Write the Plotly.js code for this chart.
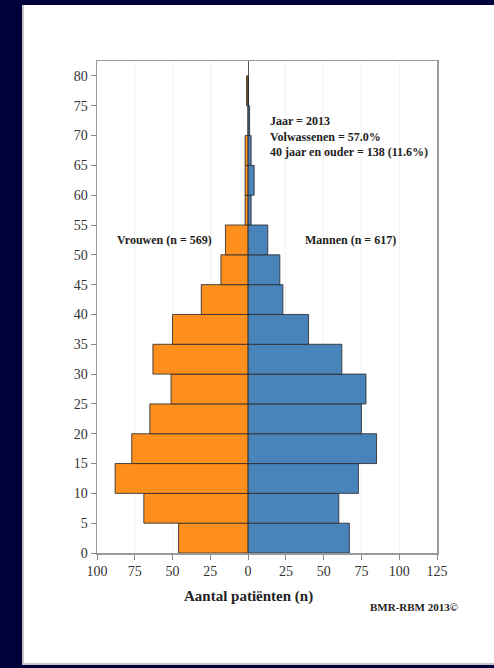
<!DOCTYPE html>
<html>
<head>
<meta charset="utf-8">
<script src="https://cdn.plot.ly/plotly-3.0.1.min.js"></script>
<style>
html,body{margin:0;padding:0;background:#00003a;overflow:hidden;width:494px;height:668px;}
#panel{position:absolute;left:22px;top:5px;width:490px;height:660px;background:#fff;
  border-left:2px solid #c4c4c4;border-bottom:2px solid #c8c8c8;box-sizing:border-box;}
#chart{position:absolute;left:0;top:0;width:494px;height:668px;}
</style>
</head>
<body>
<div id="panel"></div>
<div id="chart"></div>
<script>
// Age bins (start of each 5-year group)
var ageStart = [0, 5, 10, 15, 20, 25, 30, 35, 40, 45, 50, 55, 60, 65, 70, 75];
// Number of patients per age group
var vrouwen = [46, 69, 88, 77, 65, 51, 63, 50, 31, 18, 15, 2, 2, 2, 0, 1];
var mannen  = [67, 60, 73, 85, 75, 78, 62, 40, 23, 21, 13, 2, 4, 2, 1, 0];
var xTicks = [-100, -75, -50, -25, 0, 25, 50, 75, 100, 125];
var xTickText = ['100', '75', '50', '25', '0', '25', '50', '75', '100', '125'];
var yTicks = [0, 5, 10, 15, 20, 25, 30, 35, 40, 45, 50, 55, 60, 65, 70, 75, 80];
var labelVrouwen = 'Vrouwen (n = 569)';
var labelMannen = 'Mannen (n = 617)';
var infoLines = ['Jaar = 2013', 'Volwassenen = 57.0%', '40 jaar en ouder = 138 (11.6%)'];
var xTitle = 'Aantal patiënten (n)';
var credit = 'BMR-RBM 2013©';

var binWidth = 5;
var centers = ageStart.map(function (a) { return a + binWidth / 2; });
var serif = '"Liberation Serif", "Times New Roman", serif';

var traces = [
  {
    type: 'bar', orientation: 'h', name: 'Vrouwen',
    y: centers, x: vrouwen.map(function (v) { return -v; }), width: binWidth,
    marker: { color: '#ff8f1c', line: { color: 'rgba(45,45,45,0.85)', width: 1 } },
    hoverinfo: 'skip'
  },
  {
    type: 'bar', orientation: 'h', name: 'Mannen',
    y: centers, x: mannen, width: binWidth,
    marker: { color: '#4883b9', line: { color: 'rgba(45,45,45,0.85)', width: 1 } },
    hoverinfo: 'skip'
  }
];

var layout = {
  width: 494, height: 668,
  margin: { l: 97, r: 57, t: 61, b: 115 },
  paper_bgcolor: 'rgba(0,0,0,0)',
  plot_bgcolor: '#ffffff',
  barmode: 'overlay',
  bargap: 0,
  showlegend: false,
  font: { family: serif, color: '#333' },
  xaxis: {
    range: [-100, 125],
    tickvals: xTicks, ticktext: xTickText,
    ticks: 'outside', ticklen: 5, tickcolor: '#888', tickwidth: 1,
    tickfont: { family: serif, size: 14, color: '#333' },
    showline: true, mirror: true, linecolor: '#999', linewidth: 1.5,
    showgrid: true, gridcolor: '#f2f2f2', gridwidth: 1,
    zeroline: true, zerolinecolor: '#555', zerolinewidth: 1,
    fixedrange: true
  },
  yaxis: {
    range: [0, 82.5],
    tickvals: yTicks,
    ticks: 'outside', ticklen: 5, tickcolor: '#888', tickwidth: 1,
    tickfont: { family: serif, size: 14, color: '#333' },
    showline: true, mirror: true, linecolor: '#999', linewidth: 1.5,
    showgrid: false, zeroline: false,
    fixedrange: true
  },
  annotations: [
    { xref: 'x', yref: 'y', x: -55.6, y: 52.5, xanchor: 'center', text: '<b>' + labelVrouwen + '</b>', showarrow: false,
      font: { family: serif, size: 12, color: '#222' } },
    { xref: 'x', yref: 'y', x: 67.7, y: 52.5, xanchor: 'center', text: '<b>' + labelMannen + '</b>', showarrow: false,
      font: { family: serif, size: 12, color: '#222' } },
    { xref: 'x', yref: 'y', x: 13, y: 69.9, xanchor: 'left', align: 'left',
      text: '<b>' + infoLines.join('<br>') + '</b>', showarrow: false,
      font: { family: serif, size: 12, color: '#222' } },
    { xref: 'x', yref: 'paper', x: 0, y: -0.089, xanchor: 'center', yanchor: 'middle', text: '<b>' + xTitle + '</b>', showarrow: false,
      font: { family: serif, size: 15, color: '#222' } },
    { xref: 'paper', yref: 'paper', x: 0.9324, y: -0.1096, xanchor: 'center', yanchor: 'middle', text: '<b>' + credit + '</b>', showarrow: false,
      font: { family: serif, size: 11, color: '#222' } }
  ]
};

Plotly.newPlot('chart', traces, layout, { staticPlot: true, displayModeBar: false });
</script>
</body>
</html>
